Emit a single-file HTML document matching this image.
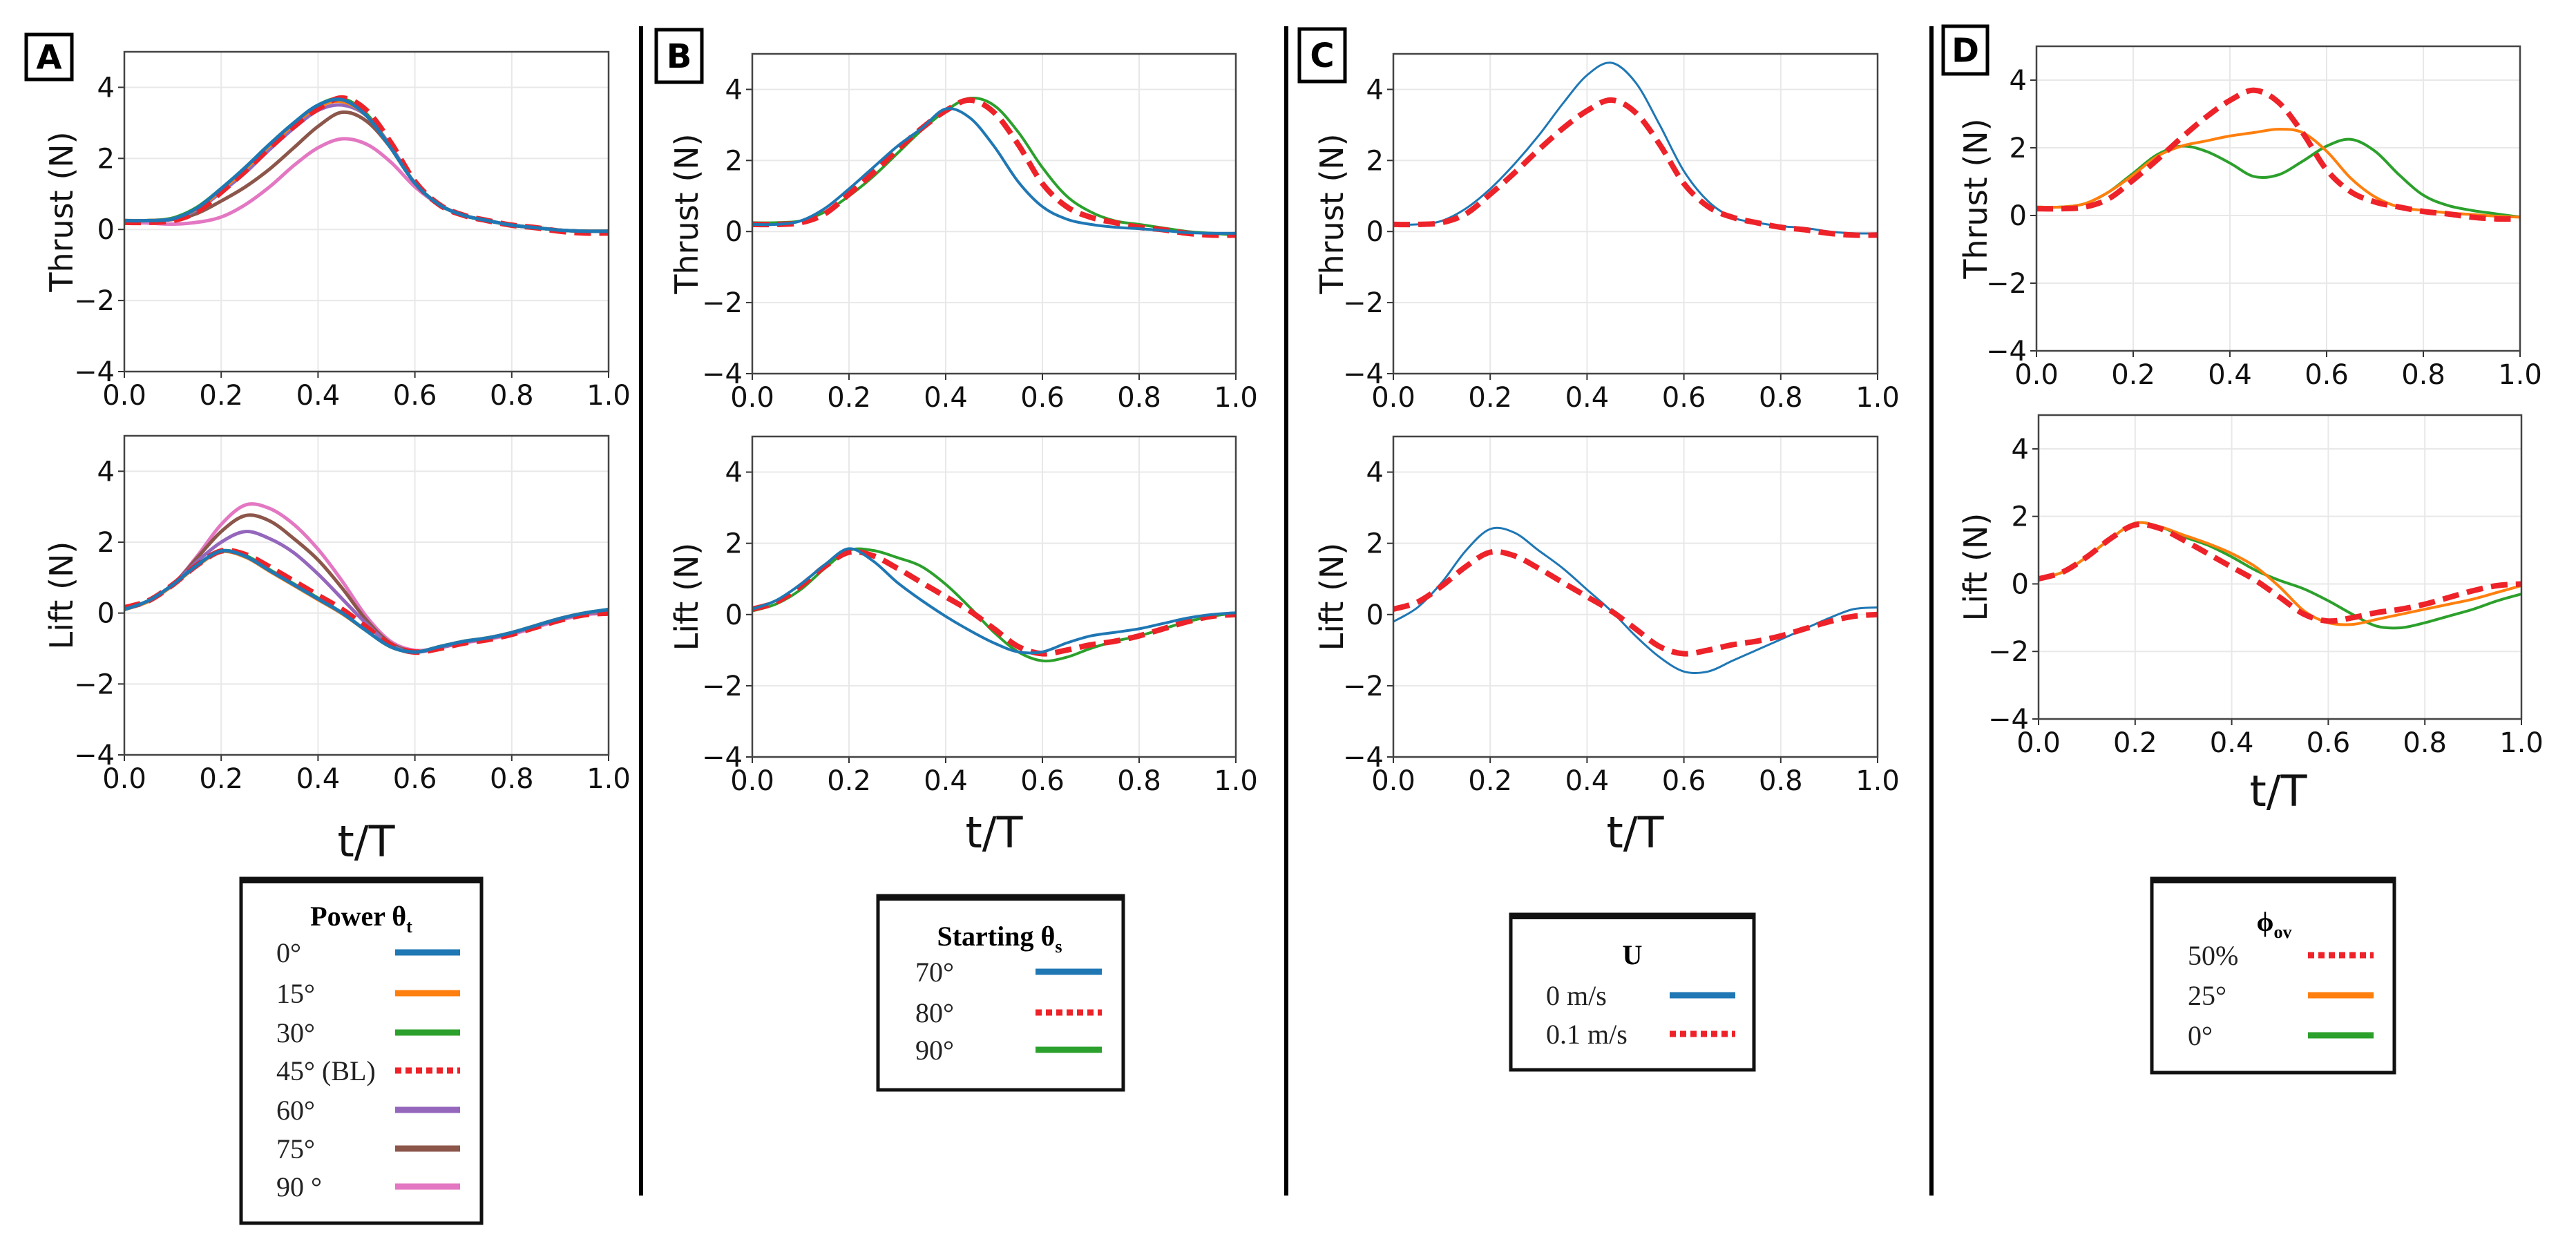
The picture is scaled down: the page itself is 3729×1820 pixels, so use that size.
<!DOCTYPE html>
<html><head><meta charset="utf-8">
<style>
html,body{margin:0;padding:0;background:#fff;}
body{width:3729px;height:1815px;overflow:hidden;}
svg text{font-family:"DejaVu Sans","Liberation Sans",sans-serif;}
.leg{font-family:"Liberation Serif",serif;}
</style></head><body>
<svg id="fig" width="3729" height="1815" viewBox="0 0 3729 1815" xmlns="http://www.w3.org/2000/svg"></svg>
<script>
// shared x samples (t/T)
const tSamples=[0,0.05,0.1,0.15,0.2,0.25,0.3,0.35,0.4,0.45,0.5,0.55,0.6,0.65,0.7,0.75,0.8,0.85,0.9,0.95,1.0];
const xTicks=[0,0.2,0.4,0.6,0.8,1.0];
const xTickLabels=["0.0","0.2","0.4","0.6","0.8","1.0"];
const yTicks=[-4,-2,0,2,4];
const yTickLabels=["\u22124","\u22122","0","2","4"];
// baseline (45° BL / 80° / 0.1 m/s / 50%)
const thrustBL=[0.2,0.2,0.25,0.5,1.05,1.65,2.3,2.9,3.4,3.7,3.35,2.45,1.35,0.7,0.4,0.25,0.12,0.05,-0.05,-0.1,-0.1];
const liftBL=[0.15,0.35,0.8,1.35,1.75,1.65,1.3,0.9,0.5,0.1,-0.4,-0.9,-1.1,-1.0,-0.85,-0.75,-0.6,-0.4,-0.2,-0.05,0.0];
// Panel A
const thrustA0=[0.25,0.25,0.3,0.6,1.15,1.75,2.4,3.0,3.5,3.65,3.2,2.3,1.3,0.7,0.4,0.25,0.12,0.05,-0.02,-0.05,-0.05];
const thrustA15=[0.25,0.25,0.3,0.58,1.1,1.7,2.35,2.95,3.45,3.6,3.2,2.3,1.3,0.7,0.4,0.25,0.12,0.05,-0.02,-0.05,-0.05];
const thrustA30=[0.25,0.25,0.32,0.62,1.15,1.75,2.4,3.0,3.5,3.68,3.25,2.3,1.3,0.7,0.4,0.25,0.12,0.05,-0.02,-0.05,-0.05];
const thrustA60=[0.25,0.25,0.3,0.55,1.05,1.6,2.25,2.85,3.35,3.5,3.2,2.35,1.3,0.7,0.4,0.25,0.12,0.05,-0.02,-0.05,-0.05];
const thrustA75=[0.25,0.25,0.28,0.45,0.8,1.2,1.7,2.3,2.9,3.3,3.05,2.3,1.3,0.7,0.4,0.25,0.12,0.05,-0.02,-0.05,-0.05];
const thrustA90=[0.2,0.18,0.15,0.2,0.35,0.7,1.2,1.8,2.3,2.55,2.4,1.9,1.2,0.7,0.4,0.25,0.12,0.05,-0.02,-0.05,-0.05];
const liftA0=[0.1,0.35,0.8,1.35,1.75,1.6,1.2,0.8,0.4,0.0,-0.5,-0.95,-1.1,-0.95,-0.8,-0.7,-0.55,-0.35,-0.15,0.0,0.1];
const liftA15=[0.1,0.33,0.78,1.33,1.73,1.58,1.18,0.78,0.38,-0.02,-0.5,-0.95,-1.1,-0.95,-0.8,-0.7,-0.55,-0.35,-0.15,0.0,0.08];
const liftA30=[0.1,0.35,0.8,1.35,1.75,1.62,1.22,0.82,0.42,0.0,-0.5,-0.95,-1.1,-0.95,-0.8,-0.7,-0.55,-0.35,-0.15,0.0,0.1];
const liftA60=[0.1,0.35,0.8,1.45,2.0,2.3,2.1,1.7,1.1,0.4,-0.3,-0.9,-1.1,-0.98,-0.82,-0.72,-0.57,-0.37,-0.17,-0.02,0.05];
const liftA75=[0.1,0.35,0.8,1.55,2.3,2.75,2.6,2.1,1.5,0.7,-0.2,-0.85,-1.08,-0.98,-0.82,-0.72,-0.57,-0.37,-0.17,-0.02,0.03];
const liftA90=[0.1,0.35,0.8,1.6,2.5,3.05,2.95,2.5,1.8,0.9,-0.1,-0.8,-1.05,-0.98,-0.84,-0.74,-0.6,-0.4,-0.2,-0.05,0.0];
// Panel B
const thrustB70=[0.2,0.2,0.3,0.65,1.2,1.8,2.4,2.9,3.45,3.2,2.4,1.4,0.7,0.35,0.2,0.12,0.08,0.03,-0.03,-0.05,-0.05];
const thrustB90=[0.25,0.25,0.3,0.55,1.0,1.55,2.2,2.85,3.4,3.75,3.55,2.8,1.8,1.0,0.55,0.3,0.2,0.1,0.0,-0.05,-0.1];
const liftB70=[0.15,0.4,0.85,1.4,1.85,1.5,0.9,0.4,-0.05,-0.45,-0.8,-1.05,-1.05,-0.8,-0.6,-0.5,-0.4,-0.25,-0.1,0.0,0.05];
const liftB90=[0.1,0.3,0.7,1.3,1.8,1.8,1.6,1.35,0.85,0.2,-0.5,-1.05,-1.3,-1.2,-0.95,-0.75,-0.6,-0.4,-0.2,-0.05,0.05];
// Panel C
const thrustC0=[0.2,0.2,0.3,0.65,1.2,1.9,2.7,3.6,4.4,4.75,4.2,3.0,1.7,0.85,0.4,0.25,0.15,0.1,0.0,-0.05,-0.05];
const liftC0=[-0.2,0.2,0.9,1.8,2.4,2.3,1.8,1.3,0.7,0.1,-0.6,-1.2,-1.6,-1.6,-1.3,-1.0,-0.7,-0.4,-0.1,0.15,0.2];
// Panel D
const thrustD25=[0.25,0.25,0.35,0.7,1.2,1.75,2.05,2.2,2.35,2.45,2.55,2.45,1.9,1.1,0.55,0.25,0.15,0.08,0.03,-0.02,-0.05];
const thrustD0=[0.25,0.25,0.35,0.7,1.25,1.8,2.05,1.9,1.55,1.15,1.2,1.6,2.05,2.25,1.9,1.2,0.6,0.3,0.15,0.05,-0.05];
const liftD25=[0.15,0.35,0.8,1.35,1.8,1.7,1.45,1.2,0.9,0.5,-0.1,-0.8,-1.15,-1.2,-1.05,-0.9,-0.75,-0.6,-0.45,-0.25,-0.05];
const liftD0=[0.15,0.35,0.8,1.35,1.8,1.7,1.4,1.15,0.8,0.4,0.1,-0.15,-0.5,-0.9,-1.25,-1.3,-1.15,-0.95,-0.75,-0.5,-0.3];

const NS='http://www.w3.org/2000/svg';
const svg=document.getElementById('fig');
function mk(tag,attrs,parent){const e=document.createElementNS(NS,tag);for(const k in attrs)e.setAttribute(k,attrs[k]);(parent||svg).appendChild(e);return e;}
const C={blue:'#1f77b4',orange:'#ff7f0e',green:'#2ca02c',red:'#ee2229',purple:'#9467bd',brown:'#8c564b',pink:'#e377c2'};

function smoothPath(pts){
  let d='M'+pts[0][0].toFixed(1)+','+pts[0][1].toFixed(1);
  for(let i=0;i<pts.length-1;i++){
    const p0=pts[i-1]||pts[i],p1=pts[i],p2=pts[i+1],p3=pts[i+2]||p2;
    const c1=[p1[0]+(p2[0]-p0[0])/6,p1[1]+(p2[1]-p0[1])/6];
    const c2=[p2[0]-(p3[0]-p1[0])/6,p2[1]-(p3[1]-p1[1])/6];
    d+=' C'+c1[0].toFixed(1)+','+c1[1].toFixed(1)+' '+c2[0].toFixed(1)+','+c2[1].toFixed(1)+' '+p2[0].toFixed(1)+','+p2[1].toFixed(1);
  }
  return d;
}

function axes(name,L,R,T,B,ylabel,ylx,series){
  const g=mk('g',{});
  
  
  const sx=v=>L+v*(R-L), sy=v=>B-(v+4)/9*(B-T);
  xTicks.forEach((v,i)=>{
    const gl=mk('line',{x1:sx(v),x2:sx(v),y1:T,y2:B,stroke:'#e8e8e8','stroke-width':2},g);
    
    
    mk('line',{x1:sx(v),x2:sx(v),y1:B,y2:B+9,stroke:'#333','stroke-width':2},g);
    const t=mk('text',{x:sx(v),y:B+48,'font-size':40,'text-anchor':'middle',fill:'#111'},g);
    
    
    t.textContent=xTickLabels[i];
  });
  yTicks.forEach((v,i)=>{
    const gl=mk('line',{x1:L,x2:R,y1:sy(v),y2:sy(v),stroke:'#e8e8e8','stroke-width':2},g);
    
    
    mk('line',{x1:L-9,x2:L,y1:sy(v),y2:sy(v),stroke:'#333','stroke-width':2},g);
    const t=mk('text',{x:L-14,y:sy(v)+14,'font-size':40,'text-anchor':'end',fill:'#111'},g);
    
    
    t.textContent=yTickLabels[i];
  });
  series.forEach(s=>{
    const pts=tSamples.map((t,i)=>[sx(t),sy(s.data[i])]);
    const p=mk('path',{d:smoothPath(pts),fill:'none',stroke:s.color,'stroke-width':s.w||5,'stroke-linejoin':'round'},g);
    if(s.dash)p.setAttribute('stroke-dasharray',s.dash);
    
    
  });
  const fr=mk('rect',{x:L,y:T,width:R-L,height:B-T,fill:'none',stroke:'#444','stroke-width':2.5},g);
  
  
  const yl=mk('text',{x:ylx,y:(T+B)/2,'font-size':46,'text-anchor':'middle',transform:'rotate(-90 '+ylx+' '+(T+B)/2+')',fill:'#111'},g);
  
  
  yl.textContent=ylabel;
}
const BLs=(d,name)=>({data:d,color:C.red,w:8,dash:'24 12',name:name});

axes('panel-a-thrust',180,881,75,538,'Thrust (N)',105,[
 {data:thrustA90,color:C.pink,name:'thrust-90deg'},{data:thrustA75,color:C.brown,name:'thrust-75deg'},
 {data:thrustA60,color:C.purple,name:'thrust-60deg'},{data:thrustA30,color:C.green,name:'thrust-30deg'},
 {data:thrustA15,color:C.orange,name:'thrust-15deg'},BLs(thrustBL,'thrust-45deg-bl'),{data:thrustA0,color:C.blue,name:'thrust-0deg'}]);
axes('panel-a-lift',180,881,631,1093,'Lift (N)',105,[
 {data:liftA90,color:C.pink,name:'lift-90deg'},{data:liftA75,color:C.brown,name:'lift-75deg'},
 {data:liftA60,color:C.purple,name:'lift-60deg'},{data:liftA30,color:C.green,name:'lift-30deg'},
 {data:liftA15,color:C.orange,name:'lift-15deg'},BLs(liftBL,'lift-45deg-bl'),{data:liftA0,color:C.blue,name:'lift-0deg'}]);
axes('panel-b-thrust',1089,1789,78,541,'Thrust (N)',1010,[
 {data:thrustB90,color:C.green,w:4,name:'thrust-90deg'},BLs(thrustBL,'thrust-80deg'),{data:thrustB70,color:C.blue,w:4,name:'thrust-70deg'}]);
axes('panel-b-lift',1089,1789,632,1096,'Lift (N)',1010,[
 {data:liftB90,color:C.green,w:4,name:'lift-90deg'},BLs(liftBL,'lift-80deg'),{data:liftB70,color:C.blue,w:4,name:'lift-70deg'}]);
axes('panel-c-thrust',2017,2718,78,541,'Thrust (N)',1944,[
 {data:thrustC0,color:C.blue,w:3,name:'thrust-0ms'},BLs(thrustBL,'thrust-0.1ms')]);
axes('panel-c-lift',2017,2718,632,1096,'Lift (N)',1944,[
 {data:liftC0,color:C.blue,w:3,name:'lift-0ms'},BLs(liftBL,'lift-0.1ms')]);
axes('panel-d-thrust',2948,3648,67,508,'Thrust (N)',2876,[
 {data:thrustD0,color:C.green,w:4,name:'thrust-0deg'},{data:thrustD25,color:C.orange,w:4,name:'thrust-25deg'},BLs(thrustBL,'thrust-50pct')]);
axes('panel-d-lift',2951,3650,601,1041,'Lift (N)',2876,[
 {data:liftD0,color:C.green,w:4,name:'lift-0deg'},{data:liftD25,color:C.orange,w:4,name:'lift-25deg'},BLs(liftBL,'lift-50pct')]);

// separators
[928,1862,2796].forEach(x=>{
  const l=mk('line',{x1:x,x2:x,y1:38,y2:1731,stroke:'#000','stroke-width':6});
  
  
});
// panel letters
[['A',38,50,66,65],['B',950,43,66,76],['C',1881,42,66,76],['D',2813,38,64,69]].forEach(p=>{
  const r=mk('rect',{x:p[1],y:p[2],width:p[3],height:p[4],fill:'#fff',stroke:'#000','stroke-width':5});
  
  
  const t=mk('text',{x:p[1]+p[3]/2,y:p[2]+p[4]/2+17,'font-size':48,'font-weight':'bold','text-anchor':'middle'});
  
  
  t.textContent=p[0];
});
// x axis titles
[[530,1240],[1439,1227],[2367,1227],[3298,1167]].forEach(p=>{
  const t=mk('text',{x:p[0],y:p[1],'font-size':62,'text-anchor':'middle',fill:'#111'});
  
  
  t.textContent='t/T';
});

// legends
function legend(name,x0,y0,x1,y1,titleX,titleY,title,sub,rows,labX,lnX0,lnX1){
  const g=mk('g',{});
  
  
  mk('rect',{x:x0,y:y0,width:x1-x0,height:y1-y0,fill:'#fff',stroke:'#111','stroke-width':5},g);
  mk('line',{x1:x0,x2:x1,y1:y0+3,y2:y0+3,stroke:'#111','stroke-width':8},g);
  const t=mk('text',{x:titleX,y:titleY+13,'font-size':40,'font-weight':'bold','text-anchor':'middle',class:'leg'},g);
  
  
  t.textContent=title;
  if(sub){const s=mk('tspan',{'font-size':26,dy:10},t);s.textContent=sub;}
  rows.forEach(r=>{
    const e=mk('g',{},g);
    
    
    const lt=mk('text',{x:labX,y:r[0]+14,'font-size':40,class:'leg',fill:'#222'},e);
    lt.textContent=r[1];
    const ln=mk('line',{x1:lnX0,x2:lnX1,y1:r[0],y2:r[0],stroke:r[2],'stroke-width':9},e);
    if(r[3])ln.setAttribute('stroke-dasharray','9 6');
  });
}
legend('legend-power',349,1272,697,1771,523,1327,'Power θ','t',
 [[1379,'0°',C.blue],[1438,'15°',C.orange],[1495,'30°',C.green],[1550,'45° (BL)',C.red,1],[1607,'60°',C.purple],[1663,'75°',C.brown],[1718,'90 °',C.pink]],400,572,666);
legend('legend-starting',1271,1297,1626,1578,1447,1356,'Starting θ','s',
 [[1407,'70°',C.blue],[1466,'80°',C.red,1],[1520,'90°',C.green]],1325,1499,1595);
legend('legend-u',2187,1324,2539,1549,2363,1383,'U','',
 [[1441,'0 m/s',C.blue],[1497,'0.1 m/s',C.red,1]],2238,2417,2512);
legend('legend-phi',3115,1272,3466,1553,3292,1335,'ϕ','ov',
 [[1383,'50%',C.red,1],[1441,'25°',C.orange],[1499,'0°',C.green]],3167,3341,3436);
</script>
</body></html>
